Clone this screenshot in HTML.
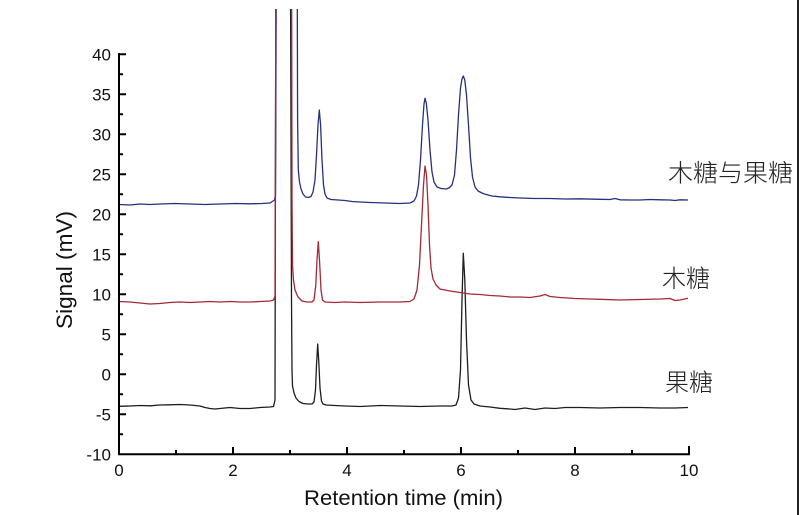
<!DOCTYPE html>
<html><head><meta charset="utf-8"><style>
html,body{margin:0;padding:0;background:#fff;}
svg{display:block;}
</style></head><body>
<svg width="800" height="515" viewBox="0 0 800 515" xmlns="http://www.w3.org/2000/svg">
<rect x="0" y="0" width="800" height="515" fill="#fff"/>
<defs><clipPath id="c"><rect x="119" y="9" width="571" height="446"/></clipPath></defs>
<g clip-path="url(#c)" fill="none" stroke-width="1.3" stroke-linejoin="round">
<path stroke="#1e1e1e" d="M119,406.3 L130,406 L140,405.5 L150,405.8 L160,405 L170,404.8 L180,404.5 L190,405 L200,406 L205,407.5 L210,408.5 L215,409 L220,408.5 L225,408 L230,407.5 L240,408.5 L250,408.5 L260,407.5 L270,407 L273.5,406.5 L275,400 L275.8,9 L276.5,-50 L290,-50 L290.6,9 L291.5,300 L292,370 L292.5,386 L294,393 L296,398 L299,401.5 L303,403.5 L308,404 L312,404 L314,402 L315.5,390 L316.5,365 L317.7,344 L318.8,362 L320,388 L321.5,401 L323,404 L326,405 L335,405.5 L345,406 L360,406.5 L380,405.5 L400,406 L420,406.5 L440,406 L452,406 L456,405 L458.5,398 L460.5,370 L462,300 L463.3,253.3 L464.8,280 L466.5,340 L468.5,385 L471,400 L474,404 L480,406 L490,407 L500,408.3 L510,409 L515,409.5 L525,408 L535,409.5 L545,408 L555,408.5 L565,407.5 L580,407.5 L600,408 L620,407.5 L640,407.5 L660,408 L675,408 L688,407.5"/>
<path stroke="#27307c" d="M119,204.5 L130,205 L140,204 L150,204.5 L160,204 L175,203.5 L190,204 L205,204.5 L220,204 L235,203.5 L250,203.8 L262,203.5 L270,203 L273,201 L274.5,200 L275.5,195 L276.2,9 L276.7,-50 L296.8,-50 L297.3,9 L297.6,120 L298.3,170 L299.5,182 L301,189 L303,194 L305.5,197 L308.3,197.5 L311,196.5 L313,192 L315,180 L316.5,155 L318,125 L319.3,110 L320.6,125 L322,160 L323.5,185 L325,194 L327,198 L331,199.5 L338,200 L345,200.5 L352,201.5 L360,202 L370,202.5 L385,203 L400,203.5 L410,203 L414,201 L416.5,196 L418.5,185 L420.5,160 L422.5,125 L424,104 L425,98.3 L426.3,103 L428,120 L430,150 L432,172 L434,182 L437,187 L441,188.5 L446,189 L449,188 L452,185 L454.5,175 L456.5,150 L458.5,115 L460.5,88 L462,79 L463.3,76 L464.8,80 L466.5,95 L468.5,125 L470.5,158 L472.5,177 L475,187 L478,191 L483,193.5 L488,195 L492,196 L500,196.8 L510,197.5 L520,198 L535,198.5 L550,198.5 L565,199 L580,198.8 L600,199.3 L610,199.5 L615,198.5 L620,199.8 L630,200 L640,200 L650,199.5 L660,199.8 L670,200 L675,200.5 L680,199.8 L688,200"/>
<path stroke="#a32a35" d="M119,301.5 L130,302 L140,303 L150,304 L160,303.5 L170,302.5 L180,302 L190,302.5 L200,302 L210,301.5 L220,302 L230,301.5 L240,302 L250,302 L260,301.5 L270,301 L273.5,300 L275,296 L275.8,9 L276.3,-50 L291,-50 L291.7,9 L292,200 L292.5,265 L293.5,280 L295,290 L298,297 L302,301 L307,302 L312,302 L314,300 L315.8,285 L317,260 L318.3,241.7 L319.6,262 L321,290 L322.5,300 L325,302 L335,302.5 L345,302 L360,302.5 L380,302 L400,302 L410,301.5 L414,299 L417,290 L419.5,265 L421.5,225 L423.5,185 L425,166 L426.5,175 L428,205 L429.5,245 L431,268 L433,279 L436,285 L440,289 L450,291 L460,292.5 L470,294 L480,294.5 L490,295.5 L500,296 L510,297 L520,297 L530,297.5 L540,296 L545,294.5 L550,296.5 L560,297.5 L575,298.5 L590,299 L600,299.3 L620,300 L640,299.5 L660,299 L670,298.5 L675,300.5 L680,300 L688,298.3"/>
</g>
<g stroke="#000" stroke-width="2" fill="none">
<line x1="119" y1="53" x2="119" y2="455"/>
<line x1="118" y1="454.3" x2="690" y2="454.3"/>
<path d="M119,54.3h7 M119,94.3h7 M119,134.3h7 M119,174.3h7 M119,214.3h7 M119,254.3h7 M119,294.3h7 M119,334.3h7 M119,374.3h7 M119,414.3h7"/>
<path d="M119,74.3h4 M119,114.3h4 M119,154.3h4 M119,194.3h4 M119,234.3h4 M119,274.3h4 M119,314.3h4 M119,354.3h4 M119,394.3h4 M119,434.3h4"/>
<path d="M233,454v-7 M347,454v-7 M461,454v-7 M575,454v-7 M689,454v-8"/>
<path d="M176,454v-4 M290,454v-4 M404,454v-4 M518,454v-4 M632,454v-4"/>
</g>
<line x1="798" y1="0" x2="798" y2="515" stroke="#222" stroke-width="2"/>
<g font-family="Liberation Sans, Arial, sans-serif" font-size="17" fill="#111" text-anchor="end">
<text x="111" y="60.3">40</text>
<text x="111" y="100.3">35</text>
<text x="111" y="140.3">30</text>
<text x="111" y="180.3">25</text>
<text x="111" y="220.3">20</text>
<text x="111" y="260.3">15</text>
<text x="111" y="300.3">10</text>
<text x="111" y="340.3">5</text>
<text x="111" y="380.3">0</text>
<text x="111" y="420.3">-5</text>
<text x="111" y="460.3">-10</text>
</g>
<g font-family="Liberation Sans, Arial, sans-serif" font-size="17" fill="#111" text-anchor="middle">
<text x="119" y="476">0</text>
<text x="233" y="476">2</text>
<text x="347" y="476">4</text>
<text x="461" y="476">6</text>
<text x="575" y="476">8</text>
<text x="689" y="476">10</text>
</g>
<text x="304" y="505" font-family="Liberation Sans, Arial, sans-serif" font-size="21" fill="#111" textLength="199" lengthAdjust="spacingAndGlyphs">Retention time (min)</text>
<text transform="translate(72,329) rotate(-90)" font-family="Liberation Sans, Arial, sans-serif" font-size="22.5" fill="#111" textLength="118" lengthAdjust="spacingAndGlyphs">Signal (mV)</text>
<g font-family="Liberation Sans, 'Noto Sans CJK SC', sans-serif" font-weight="300" fill="#222">
<text x="668" y="181.5" font-size="24.5" textLength="125" lengthAdjust="spacingAndGlyphs">木糖与果糖</text>
<text x="662" y="286.8" font-size="24.5" textLength="48" lengthAdjust="spacingAndGlyphs">木糖</text>
<text x="665" y="391.2" font-size="24.5" textLength="48" lengthAdjust="spacingAndGlyphs">果糖</text>
</g>
</svg>
</body></html>
